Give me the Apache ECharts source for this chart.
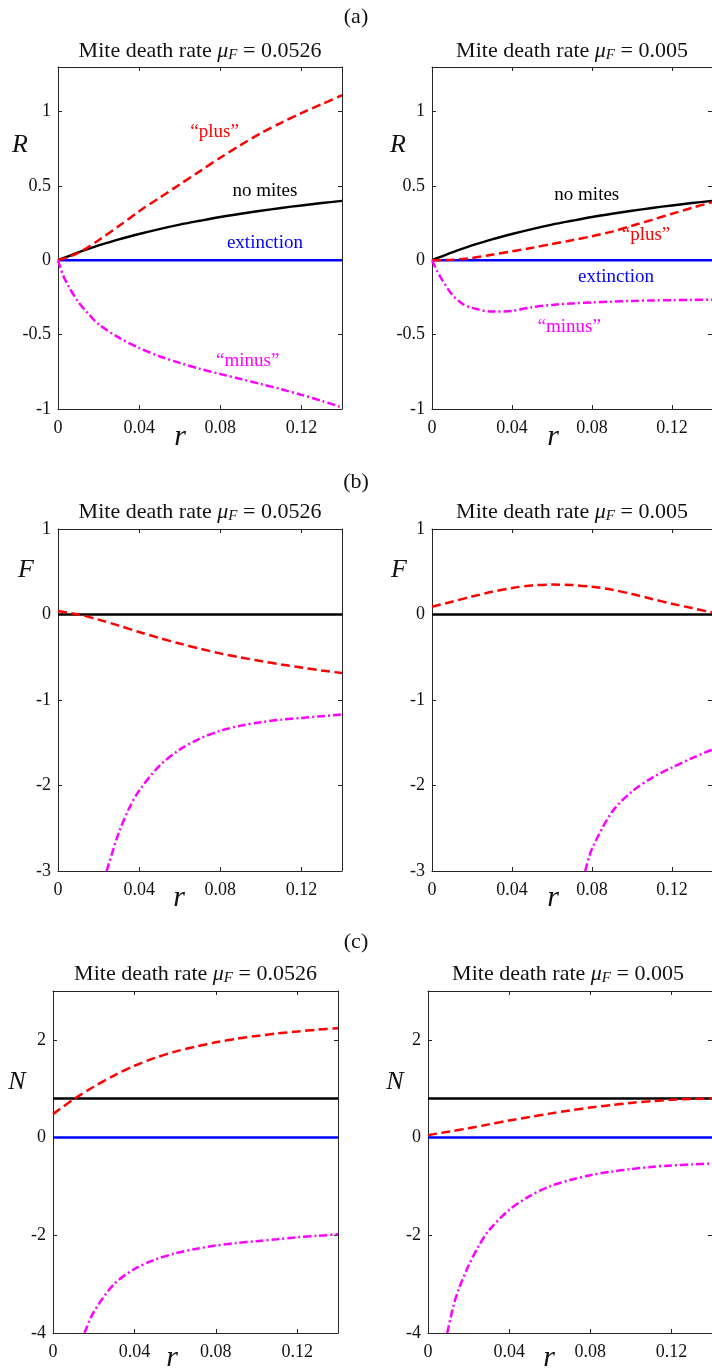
<!DOCTYPE html>
<html>
<head>
<meta charset="utf-8">
<script src="https://cdn.jsdelivr.net/npm/echarts@6/dist/echarts.min.js"></script>
<style>
  html, body { margin: 0; padding: 0; background: #ffffff; }
  #chart { width: 712px; height: 1369px; }
</style>
</head>
<body>
<div id="chart"></div>
<script>
// ---------- shared tick values ----------
const rTicks = [0, 0.04, 0.08, 0.12];
const rMax = 0.14;

// ---------- (a) R versus r ----------
const rA = [0, 0.0025, 0.005, 0.01, 0.015, 0.02, 0.03, 0.04, 0.05, 0.06, 0.07, 0.08, 0.09, 0.10, 0.11, 0.12, 0.13, 0.14];
const noMitesR = [0, 0.014, 0.027, 0.053, 0.077, 0.10, 0.141, 0.177, 0.21, 0.24, 0.266, 0.291, 0.313, 0.333, 0.352, 0.369, 0.385, 0.40];
const extinctionR = [0, 0, 0, 0, 0, 0, 0, 0, 0, 0, 0, 0, 0, 0, 0, 0, 0, 0];
// mu_F = 0.0526
const plusR1 = [0, 0.01, 0.022, 0.05, 0.09, 0.135, 0.23, 0.33, 0.42, 0.51, 0.60, 0.69, 0.775, 0.855, 0.925, 0.99, 1.05, 1.11];
const minusR1 = [0, -0.10, -0.17, -0.28, -0.36, -0.43, -0.52, -0.59, -0.645, -0.69, -0.73, -0.765, -0.798, -0.832, -0.867, -0.905, -0.945, -0.99];
// mu_F = 0.005
const plusR2 = [0, 0.0005, 0.001, 0.003, 0.008, 0.015, 0.038, 0.06, 0.084, 0.11, 0.135, 0.162, 0.193, 0.232, 0.272, 0.313, 0.353, 0.39];
const minusR2 = [0, -0.07, -0.13, -0.23, -0.29, -0.32, -0.345, -0.34, -0.315, -0.30, -0.29, -0.283, -0.278, -0.273, -0.27, -0.268, -0.266, -0.265];
const rTicksA = [-1, -0.5, 0, 0.5, 1];

// ---------- (b) F versus r ----------
const rB = [0, 0.01, 0.02, 0.03, 0.04, 0.05, 0.06, 0.07, 0.08, 0.09, 0.10, 0.11, 0.12, 0.13, 0.14];
const noMitesF = [0, 0, 0, 0, 0, 0, 0, 0, 0, 0, 0, 0, 0, 0, 0];
const plusF1 = [0.04, 0.0, -0.06, -0.13, -0.205, -0.275, -0.34, -0.40, -0.455, -0.502, -0.545, -0.585, -0.62, -0.655, -0.685];
const rMinusF1 = [0.024, 0.025, 0.03, 0.035, 0.04, 0.05, 0.06, 0.07, 0.08, 0.09, 0.10, 0.11, 0.12, 0.13, 0.14];
const minusF1 = [-3, -2.92, -2.55, -2.27, -2.06, -1.77, -1.58, -1.45, -1.36, -1.30, -1.26, -1.23, -1.21, -1.19, -1.17];
const plusF2 = [0.09, 0.15, 0.21, 0.265, 0.31, 0.34, 0.35, 0.345, 0.325, 0.29, 0.24, 0.182, 0.126, 0.075, 0.025];
const rMinusF2 = [0.0766, 0.08, 0.09, 0.10, 0.11, 0.12, 0.13, 0.14];
const minusF2 = [-3, -2.74, -2.31, -2.07, -1.91, -1.79, -1.68, -1.58];
const fTicks = [-3, -2, -1, 0, 1];

// ---------- (c) N versus r ----------
const rC = [0, 0.01, 0.02, 0.03, 0.04, 0.05, 0.06, 0.07, 0.08, 0.09, 0.10, 0.11, 0.12, 0.13, 0.14];
const noMitesN = [0.8, 0.8, 0.8, 0.8, 0.8, 0.8, 0.8, 0.8, 0.8, 0.8, 0.8, 0.8, 0.8, 0.8, 0.8];
const extinctionN = [0, 0, 0, 0, 0, 0, 0, 0, 0, 0, 0, 0, 0, 0, 0];
const plusN1 = [0.48, 0.78, 1.04, 1.27, 1.47, 1.63, 1.76, 1.86, 1.95, 2.02, 2.08, 2.13, 2.17, 2.21, 2.24];
const rMinusN1 = [0.0155, 0.02, 0.03, 0.04, 0.05, 0.06, 0.07, 0.08, 0.09, 0.10, 0.11, 0.12, 0.13, 0.14];
const minusN1 = [-4, -3.57, -3.0, -2.69, -2.50, -2.37, -2.28, -2.21, -2.16, -2.12, -2.08, -2.04, -2.01, -1.98];
const plusN2 = [0.05, 0.12, 0.19, 0.27, 0.35, 0.42, 0.49, 0.555, 0.615, 0.665, 0.71, 0.745, 0.772, 0.79, 0.80];
const rMinusN2 = [0.0095, 0.0125, 0.015, 0.02, 0.025, 0.03, 0.04, 0.05, 0.06, 0.07, 0.08, 0.09, 0.10, 0.11, 0.12, 0.13, 0.14];
const minusN2 = [-4, -3.45, -3.12, -2.62, -2.22, -1.90, -1.48, -1.20, -1.00, -0.87, -0.77, -0.70, -0.645, -0.60, -0.57, -0.55, -0.53];
const nTicks = [-4, -2, 0, 2];

const muValues = ['0.0526', '0.005'];
const panelTags = ['(a)', '(b)', '(c)'];
const varNames = ['R', 'F', 'N'];

// ---------- styling ----------
const SERIF = '"Liberation Serif", "DejaVu Serif", serif';
const AXIS_COLOR = '#262626';
const RED = '#ff0000', MAGENTA = '#ff00ff', BLUE = '#0000ff', BLACK = '#000000';

const pairs = (xs, ys) => xs.map((x, i) => [x, ys[i]]);

function curve(kind, xs, ys) {
  const styles = {
    noMites:    { color: BLACK,   type: 'solid',      width: 2.4, z: 3 },
    extinction: { color: BLUE,    type: 'solid',      width: 2.6, z: 2 },
    plus:       { color: RED,     type: [9, 4.5],     width: 2.5, z: 4 },
    minus:      { color: MAGENTA, type: [8, 3, 2, 3], width: 2.5, z: 4 }
  };
  const s = styles[kind];
  return {
    kind,
    data: pairs(xs, ys),
    lineStyle: { color: s.color, type: s.type, width: s.width, cap: 'butt' },
    z: s.z
  };
}

// one entry per panel: layout box, y-range and the curves drawn in it
const panels = [
  { row: 0, col: 0, box: [58, 67, 284, 342], y: [-1, 1.3, 0.5], yTicks: rTicksA,
    curves: [curve('extinction', rA, extinctionR), curve('noMites', rA, noMitesR),
             curve('plus', rA, plusR1), curve('minus', rA, minusR1)],
    notes: [['\u201Cplus\u201D', 0.0772, 0.866, RED], ['no mites', 0.102, 0.463, BLACK],
            ['extinction', 0.102, 0.114, BLUE], ['\u201Cminus\u201D', 0.0935, -0.678, MAGENTA]] },
  { row: 0, col: 1, box: [432, 67, 286, 342], y: [-1, 1.3, 0.5], yTicks: rTicksA,
    curves: [curve('extinction', rA, extinctionR), curve('noMites', rA, noMitesR),
             curve('plus', rA, plusR2), curve('minus', rA, minusR2)],
    notes: [['no mites', 0.0774, 0.436, BLACK], ['\u201Cplus\u201D', 0.107, 0.168, RED],
            ['extinction', 0.092, -0.114, BLUE], ['\u201Cminus\u201D', 0.0686, -0.45, MAGENTA]] },
  { row: 1, col: 0, box: [58, 529, 284, 342], y: [-3, 1, 1], yTicks: fTicks,
    curves: [curve('plus', rB, plusF1), curve('noMites', rB, noMitesF), curve('minus', rMinusF1, minusF1)],
    notes: [] },
  { row: 1, col: 1, box: [432, 529, 286, 342], y: [-3, 1, 1], yTicks: fTicks,
    curves: [curve('plus', rB, plusF2), curve('noMites', rB, noMitesF), curve('minus', rMinusF2, minusF2)],
    notes: [] },
  { row: 2, col: 0, box: [53, 991, 285, 342], y: [-4, 3, 2], yTicks: nTicks,
    curves: [curve('extinction', rC, extinctionN), curve('noMites', rC, noMitesN),
             curve('plus', rC, plusN1), curve('minus', rMinusN1, minusN1)],
    notes: [] },
  { row: 2, col: 1, box: [428, 991, 286, 342], y: [-4, 3, 2], yTicks: nTicks,
    curves: [curve('extinction', rC, extinctionN), curve('noMites', rC, noMitesN),
             curve('plus', rC, plusN2), curve('minus', rMinusN2, minusN2)],
    notes: [] }
];

const grids = [], xAxes = [], yAxes = [], series = [], graphics = [];

const lineCommon = { show: true, onZero: false, lineStyle: { color: AXIS_COLOR, width: 1 } };
const tickCommon = { show: true, inside: true, length: 4, lineStyle: { color: AXIS_COLOR, width: 1 } };
const labelFont = { fontFamily: SERIF, fontSize: 18, color: '#111111' };
const fmt = v => String(+(+v).toFixed(4));

panels.forEach((p, i) => {
  const [left, top, width, height] = p.box;
  grids.push({ left, top, width, height, containLabel: false, show: false });

  const xBase = { gridIndex: i, type: 'value', min: 0, max: rMax, interval: rTicks[1] - rTicks[0],
                  axisLine: lineCommon, axisTick: tickCommon, splitLine: { show: false } };
  xAxes.push(Object.assign({}, xBase, { position: 'bottom',
    axisLabel: Object.assign({ show: true, margin: 10, showMaxLabel: false,
      formatter: v => rTicks.includes(+(+v).toFixed(4)) ? fmt(v) : '' }, labelFont) }));
  xAxes.push(Object.assign({}, xBase, { position: 'top', axisLabel: { show: false } }));

  const [ymin, ymax, yint] = p.y;
  const yBase = { gridIndex: i, type: 'value', min: ymin, max: ymax, interval: yint,
                  axisLine: lineCommon, axisTick: tickCommon, splitLine: { show: false } };
  yAxes.push(Object.assign({}, yBase, { position: 'left',
    axisLabel: Object.assign({ show: true, margin: 7, showMaxLabel: p.yTicks.includes(ymax),
      formatter: v => p.yTicks.includes(+(+v).toFixed(4)) ? fmt(v) : '' }, labelFont) }));
  yAxes.push(Object.assign({}, yBase, { position: 'right', axisLabel: { show: false } }));

  p.curves.forEach((c, k) => {
    const s = {
      type: 'line', xAxisIndex: 2 * i, yAxisIndex: 2 * i,
      data: c.data, showSymbol: false, symbol: 'none',
      smooth: 0.3, clip: true,
      lineStyle: c.lineStyle, z: c.z, animation: false, silent: true
    };
    if (k === 0 && p.notes.length) {
      s.markPoint = {
        symbol: 'rect', symbolSize: 1, silent: true, animation: false,
        itemStyle: { color: 'rgba(0,0,0,0)' },
        data: p.notes.map(n => ({
          coord: [n[1], n[2]],
          label: { show: true, position: 'inside', formatter: n[0], color: n[3],
                   fontFamily: SERIF, fontSize: 19 }
        }))
      };
    }
    series.push(s);
  });

  // panel title with mu_F
  const cx = left + width / 2 - (p.col === 1 ? 3 : 0);
  const titleY = [51, 512, 974][p.row];
  graphics.push({
    type: 'text', x: cx, y: titleY,
    style: {
      text: '{a|Mite death rate }{m|\u03BC}{s|F}{a| = ' + muValues[p.col] + '}',
      align: 'center', verticalAlign: 'middle',
      rich: {
        a: { fontFamily: SERIF, fontSize: 22, lineHeight: 24, fill: '#111' },
        m: { fontFamily: SERIF, fontSize: 22, lineHeight: 24, fontStyle: 'italic', fill: '#111' },
        s: { fontFamily: SERIF, fontSize: 15, lineHeight: 12, fontStyle: 'italic', verticalAlign: 'bottom', fill: '#111' }
      }
    }
  });

  // variable name beside the y axis
  const nameX = p.col === 0 ? [20, 26, 17][p.row] : [398, 399, 395][p.row];
  const nameY = [145, 570, 1082][p.row];
  graphics.push({ type: 'text', x: nameX, y: nameY,
    style: { text: varNames[p.row], fontFamily: SERIF, fontStyle: 'italic', fontSize: 26,
             fill: '#111', align: 'center', verticalAlign: 'middle' } });

  // r label under the x axis
  const rx = p.col === 0 ? [180, 179, 172][p.row] : [553, 553, 549][p.row];
  const ry = [437, 898, 1358][p.row];
  graphics.push({ type: 'text', x: rx, y: ry,
    style: { text: 'r', fontFamily: SERIF, fontStyle: 'italic', fontSize: 30,
             fill: '#111', align: 'center', verticalAlign: 'middle' } });
});

// row tags
[17, 482, 942].forEach((y, k) => {
  graphics.push({ type: 'text', x: 356, y,
    style: { text: panelTags[k], fontFamily: SERIF, fontSize: 22, fill: '#111',
             align: 'center', verticalAlign: 'middle' } });
});

const chart = echarts.init(document.getElementById('chart'), null, { renderer: 'canvas' });
chart.setOption({
  animation: false,
  backgroundColor: '#ffffff',
  grid: grids,
  xAxis: xAxes,
  yAxis: yAxes,
  series: series,
  graphic: graphics
});
</script>
</body>
</html>
